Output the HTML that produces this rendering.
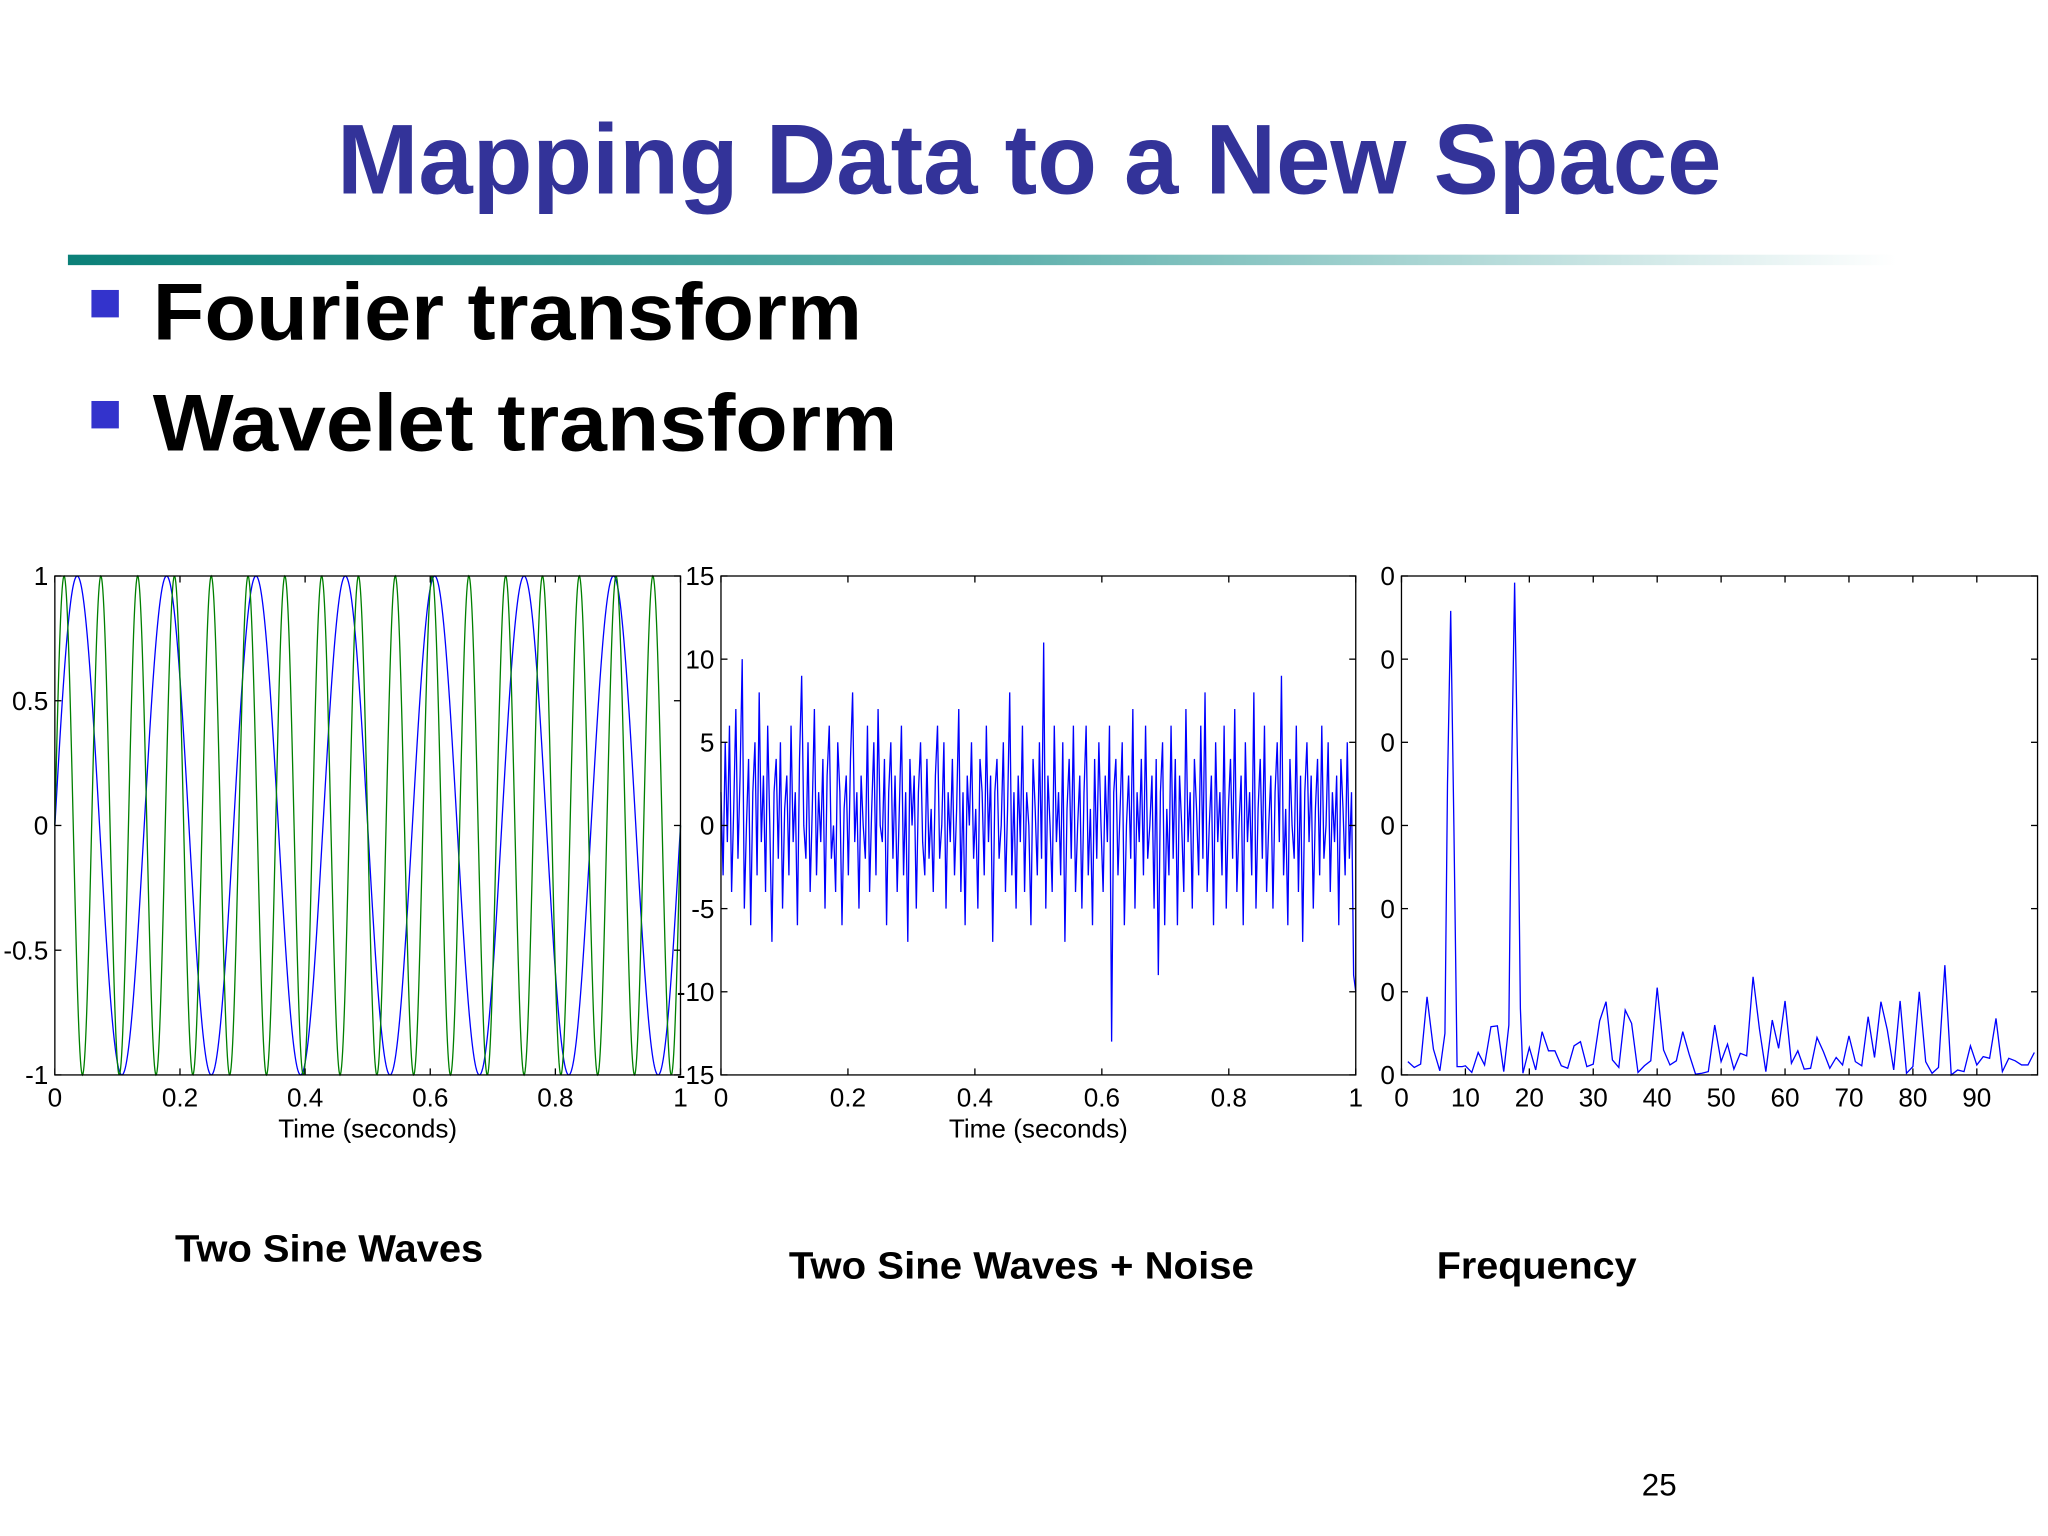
<!DOCTYPE html>
<html><head><meta charset="utf-8">
<style>
html,body{margin:0;padding:0;background:#fff;}
svg{display:block;}
text{font-family:"Liberation Sans",Arial,sans-serif;}
</style></head>
<body>
<svg id="slide" width="2048" height="1536" viewBox="0 0 1568 1176" xmlns="http://www.w3.org/2000/svg">
<defs>
<linearGradient id="rule" x1="0" x2="1" y1="0" y2="0">
<stop offset="0" stop-color="#0b8078"/><stop offset="0.5" stop-color="#5aaeaa"/><stop offset="1" stop-color="#ffffff"/>
</linearGradient>
</defs>
<text x="258" y="148" font-size="76" font-weight="bold" fill="#333399" textLength="1060" lengthAdjust="spacingAndGlyphs">Mapping Data to a New Space</text>
<rect x="52" y="195" width="1400" height="8" fill="url(#rule)"/>
<rect x="70" y="222" width="21" height="21" fill="#3333cc"/>
<text x="117" y="260" font-size="62" font-weight="bold" fill="#000" textLength="543" lengthAdjust="spacingAndGlyphs">Fourier transform</text>
<rect x="70" y="307" width="21" height="21" fill="#3333cc"/>
<text x="117" y="345" font-size="62" font-weight="bold" fill="#000" textLength="570" lengthAdjust="spacingAndGlyphs">Wavelet transform</text>
<g id="p1"></g>
<g id="p2"></g>
<g id="p3"></g>
<text x="134" y="966" font-size="29" font-weight="bold" textLength="236" lengthAdjust="spacingAndGlyphs">Two Sine Waves</text>
<text x="604" y="979" font-size="29" font-weight="bold" textLength="356" lengthAdjust="spacingAndGlyphs">Two Sine Waves + Noise</text>
<text x="1100" y="979" font-size="29" font-weight="bold" textLength="153" lengthAdjust="spacingAndGlyphs">Frequency</text>
<text x="1257" y="1145" font-size="24">25</text>
</svg>
<script>
// Plot 1 data
const sineFreqs = [7, 17];
const sineColors = ['#0000ff', '#008000'];
const p1XTicks = [0, 0.2, 0.4, 0.6, 0.8, 1];
const p1XTickLabels = ['0', '0.2', '0.4', '0.6', '0.8', '1'];
const p1YTicks = [1, 0.5, 0, -0.5, -1];
const p1YTickLabels = ['1', '0.5', '0', '-0.5', '-1'];
// Plot 2 data
const noisySignal = [2,-3,5,-1,6,-4,1,7,-2,3,10,-5,0,4,-6,2,5,-3,8,-1,
3,-4,6,0,-7,2,4,-2,5,-5,1,3,-3,6,-1,2,-6,4,9,0,
-2,5,-4,1,7,-3,2,-1,4,-5,3,6,-2,0,-4,5,2,-6,1,3,
-3,4,8,-1,2,-5,3,0,-2,6,-4,1,5,-3,7,0,-1,4,-6,2,
5,-2,3,-4,1,6,-3,2,-7,4,0,3,-5,2,5,-1,-3,4,-2,1,
-4,3,6,-2,0,5,-5,2,-1,4,-3,1,7,-4,2,-6,3,0,5,-2,
1,-5,4,2,-3,6,-1,3,-7,2,4,-2,0,5,-4,1,8,-3,2,-5,
3,-1,6,-4,2,0,-6,4,1,-3,5,-2,11,-5,3,0,-4,6,-1,2,
-3,5,-7,1,4,-2,6,-4,0,3,-5,2,6,-3,1,-6,4,-2,5,0,
-4,3,-1,6,-13,2,4,-3,1,5,-6,0,3,-2,7,-5,2,-1,4,-3,
6,-2,0,3,-5,4,-9,2,5,-6,1,-3,6,-2,4,-6,3,0,-4,7,
-1,2,-5,4,1,-3,6,-2,8,-4,0,3,-6,5,-1,2,-3,6,-5,1,
4,-2,7,-4,0,3,-6,5,-1,2,-3,8,-5,1,4,-2,6,-4,0,3,
-5,2,5,-1,9,-3,1,-6,4,0,-2,6,-4,3,-7,2,5,-1,3,-5,
1,4,-3,6,-2,0,5,-4,2,-1,3,-6,4,1,-3,5,-2,2,-9,-10];
const p2YTicks = [15, 10, 5, 0, -5, -10, -15];
const p2YTickLabels = ['15', '10', '5', '0', '-5', '-10', '-15'];
// Plot 3 data
const specFreq = [1,2,3,4,5,6,6.8,7.2,7.7,8.2,8.7,9.5,10,11,12,13,14,15,16,16.8,17.2,17.7,18.2,18.6,19,20,21,22,23,24,25,26,27,28,29,30,31,32,33,34,35,36,37,38,39,40,41,42,43,44,45,46,47,48,49,50,51,52,53,54,55,56,57,58,59,60,61,62,63,64,65,66,67,68,69,70,71,72,73,74,75,76,77,78,79,80,81,82,83,84,85,86,87,88,89,90,91,92,93,94,95,96,97,98,99];
const specAmp = [1.6,0.9,1.3,9.4,3.1,0.5,5.0,35,55.8,30,1.0,1.0,1.1,0.3,2.7,1.2,5.8,5.9,0.4,6,35,59.2,35,8,0.2,3.3,0.6,5.2,2.9,2.9,1.1,0.8,3.5,4.0,1.0,1.3,6.5,8.8,1.8,0.9,7.8,6.2,0.3,1.1,1.7,10.5,3.0,1.2,1.7,5.2,2.5,0.1,0.2,0.4,6.0,1.6,3.7,0.7,2.6,2.3,11.8,5.5,0.4,6.6,3.2,8.9,1.4,2.9,0.7,0.8,4.5,2.8,0.8,2.1,1.2,4.7,1.6,1.1,7.0,2.1,8.8,5.4,0.6,8.9,0.2,1.0,10.0,1.6,0.2,0.9,13.2,0.0,0.6,0.4,3.5,1.2,2.2,2.0,6.8,0.4,2.0,1.7,1.2,1.2,2.7];
const p3XTicks = [0,10,20,30,40,50,60,70,80,90];
const p3XTickLabels = ['0','10','20','30','40','50','60','70','80','90'];
const p3YTicks = [0,10,20,30,40,50,60];
const p3YTickLabels = ['0','0','0','0','0','0','0'];

const NS = 'http://www.w3.org/2000/svg';
function mk(tag, parent, attrs) {
  const e = document.createElementNS(NS, tag);
  for (const k in attrs) e.setAttribute(k, attrs[k]);
  parent.appendChild(e);
  return e;
}
function axes(g, L, R, T, B, xs, ys, xt, xtl, yt, ytl, xlabel) {
  const fr = mk('rect', g, {x: L, y: T, width: R - L, height: B - T, fill: 'none', stroke: '#000', 'stroke-width': 1});
  
  
  xt.forEach((v, i) => {
    const x = xs(v);
    mk('line', g, {x1: x, x2: x, y1: B, y2: B - 5, stroke: '#000'});
    mk('line', g, {x1: x, x2: x, y1: T, y2: T + 5, stroke: '#000'});
    const t = mk('text', g, {x: x, y: B + 24, 'font-size': 20, 'text-anchor': 'middle'});
    
    
    t.textContent = xtl[i];
  });
  yt.forEach((v, i) => {
    const y = ys(v);
    mk('line', g, {x1: L, x2: L + 5, y1: y, y2: y, stroke: '#000'});
    mk('line', g, {x1: R, x2: R - 5, y1: y, y2: y, stroke: '#000'});
    const t = mk('text', g, {x: L - 5, y: y + 7, 'font-size': 20, 'text-anchor': 'end'});
    
    
    t.textContent = ytl[i];
  });
  if (xlabel) {
    const t = mk('text', g, {x: (L + R) / 2, y: B + 48, 'font-size': 20, 'text-anchor': 'middle'});
    
    
    t.textContent = xlabel;
  }
}
// Plot 1
(function(){
  const g = document.getElementById('p1');
  const L = 42, R = 521, T = 441, B = 823;
  const xs = v => L + v * (R - L), ys = v => B - (v + 1) / 2 * (B - T);
  sineFreqs.forEach((f, k) => {
    let d = '';
    for (let i = 0; i <= 1200; i++) {
      const t = i / 1200;
      d += (i ? 'L' : 'M') + xs(t).toFixed(2) + ' ' + ys(Math.sin(2 * Math.PI * f * t)).toFixed(2);
    }
    const p = mk('path', g, {d: d, fill: 'none', stroke: sineColors[k], 'stroke-width': 1});
    
    
  });
  axes(g, L, R, T, B, xs, ys, p1XTicks, p1XTickLabels, p1YTicks, p1YTickLabels, 'Time (seconds)');
})();
// Plot 2
(function(){
  const g = document.getElementById('p2');
  const L = 552, R = 1038, T = 441, B = 823;
  const xs = v => L + v * (R - L), ys = v => B - (v + 15) / 30 * (B - T);
  const n = noisySignal.length;
  let d = '';
  noisySignal.forEach((v, i) => { d += (i ? 'L' : 'M') + xs(i / (n - 1)).toFixed(2) + ' ' + ys(v).toFixed(2); });
  const p = mk('path', g, {d: d, fill: 'none', stroke: '#0000ff', 'stroke-width': 1});
  
  
  axes(g, L, R, T, B, xs, ys, p1XTicks, p1XTickLabels, p2YTicks, p2YTickLabels, 'Time (seconds)');
})();
// Plot 3
(function(){
  const g = document.getElementById('p3');
  const L = 1073, R = 1560, T = 441, B = 823;
  const xs = v => L + v / 99.5 * (R - L), ys = v => B - v / 60 * (B - T);
  let d = '';
  specFreq.forEach((f, i) => { d += (i ? 'L' : 'M') + xs(f).toFixed(2) + ' ' + ys(specAmp[i]).toFixed(2); });
  const p = mk('path', g, {d: d, fill: 'none', stroke: '#0000ff', 'stroke-width': 1});
  
  
  axes(g, L, R, T, B, xs, ys, p3XTicks, p3XTickLabels, p3YTicks, p3YTickLabels, null);
})();
</script>
</body></html>
